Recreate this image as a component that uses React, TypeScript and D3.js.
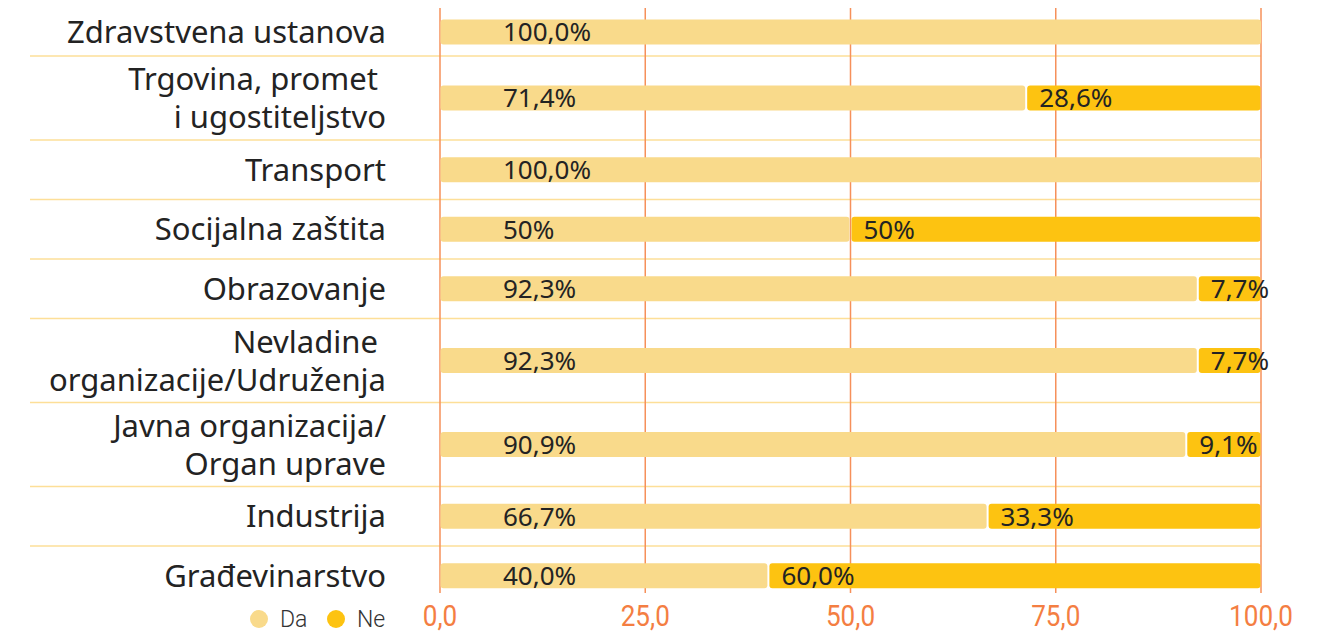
import React from "react";
import * as d3 from "d3";

const categories: string[][] = [
  ["Zdravstvena ustanova"],
  ["Trgovina, promet ", "i ugostiteljstvo"],
  ["Transport"],
  ["Socijalna zaštita"],
  ["Obrazovanje"],
  ["Nevladine ", "organizacije/Udruženja"],
  ["Javna organizacija/", "Organ uprave"],
  ["Industrija"],
  ["Građevinarstvo"],
];
const daValues = [100, 71.4, 100, 50, 92.3, 92.3, 90.9, 66.7, 40];
const neValues = [0, 28.6, 0, 50, 7.7, 7.7, 9.1, 33.3, 60];
const daLabels = ["100,0%", "71,4%", "100,0%", "50%", "92,3%", "92,3%", "90,9%", "66,7%", "40,0%"];
const neLabels = ["", "28,6%", "", "50%", "7,7%", "7,7%", "9,1%", "33,3%", "60,0%"];
const tickValues = [0, 25, 50, 75, 100];
const tickLabels = ["0,0", "25,0", "50,0", "75,0", "100,0"];
const legendItems = ["Da", "Ne"];

const COLORS = { da: "#F9DA8B", ne: "#FDC311", grid: "#F6905A", sep: "#FDDF98", tick: "#F47E42", text: "#232323" };

export default function App() {
  const W = 1322, H = 633;
  const left = 440, right = 1261;
  const x = d3.scaleLinear().domain([0, 100]).range([left, right]);
  const gridTop = 8, gridBottom = 593;
  const firstRowH = 48, oneLine = 59.5, twoLine = 84;
  const heights = categories.map((c, i) => (i === 0 ? firstRowH : c.length > 1 ? twoLine : oneLine));
  const tops: number[] = [];
  let acc = gridTop;
  heights.forEach((h) => { tops.push(acc); acc += h; });
  const barH = 25;
  const sansFont = "'Noto Sans', sans-serif";
  const narrowFont = "'Roboto', sans-serif";

  return (
    <svg width={W} height={H} style={{ position: "absolute", left: 0, top: 0, background: "#fff" }}>
      {tops.slice(1).map((t, i) => (
        <line key={"s" + i} x1={30} x2={right} y1={t} y2={t} stroke={COLORS.sep} strokeWidth={1.5} />
      ))}
      {tickValues.map((v, i) => (
        <line key={"g" + i} x1={x(v)} x2={x(v)} y1={gridTop} y2={gridBottom} stroke={COLORS.grid} strokeWidth={1.5} />
      ))}
      {categories.map((c, i) => {
        const cy = tops[i] + heights[i] / 2;
        const y = cy - barH / 2;
        const da = daValues[i], ne = neValues[i];
        const daEnd = ne > 0 ? x(da) - 1 : x(da);
        return (
          <g key={"b" + i}>
            <rect x={x(0) + 0.5} y={y} width={daEnd - x(0) - 0.5} height={barH} rx={3} fill={COLORS.da} />
            {ne > 0 && (
              <rect x={x(da) + 1} y={y} width={x(da + ne) - x(da) - 1.5} height={barH} rx={3} fill={COLORS.ne} />
            )}
            <text x={x(0) + 63} y={cy} dy="0.36em" fontFamily={sansFont} fontSize={26} fill={COLORS.text}>{daLabels[i]}</text>
            {ne > 0 && (
              <text x={x(da) + 13} y={cy} dy="0.36em" fontFamily={sansFont} fontSize={26} fill={COLORS.text}>{neLabels[i]}</text>
            )}
          </g>
        );
      })}
      {categories.map((c, i) => {
        const cy = tops[i] + heights[i] / 2;
        return (
          <text key={"c" + i} x={386} textAnchor="end" fontFamily={sansFont} fontSize={31} fill={COLORS.text} style={{ whiteSpace: "pre" }}>
            {c.map((line, j) => (
              <tspan key={j} x={386} y={cy + (j - (c.length - 1) / 2) * 38} dy="0.36em">{line}</tspan>
            ))}
          </text>
        );
      })}
      {tickValues.map((v, i) => (
        <text key={"t" + i} transform={`translate(${x(v)},626) scale(0.87,1)`} textAnchor="middle" fontFamily={narrowFont} fontSize={30} fill={COLORS.tick}>{tickLabels[i]}</text>
      ))}
      {legendItems.map((l, i) => (
        <g key={"l" + i} transform={`translate(${259 + i * 77},619)`}>
          <circle r={9} fill={i === 0 ? COLORS.da : COLORS.ne} />
          <text x={21} dy="0.36em" fontFamily={narrowFont} fontWeight={300} fontSize={23} fill="#333">{l}</text>
        </g>
      ))}
    </svg>
  );
}
